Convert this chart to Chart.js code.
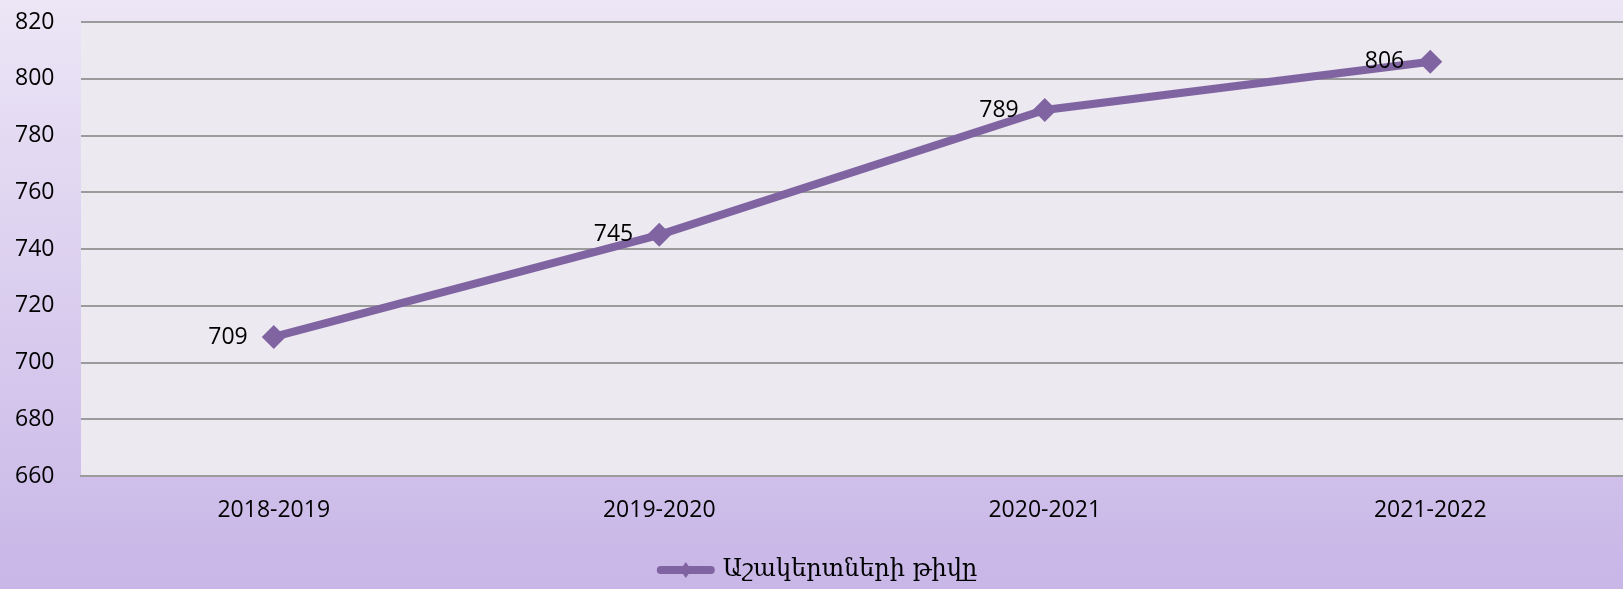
<!DOCTYPE html>
<html>
<head>
<meta charset="utf-8">
<script src="https://cdn.jsdelivr.net/npm/chart.js@4.4.1/dist/chart.umd.min.js"></script>
<style>
    html, body { margin: 0; padding: 0; }
    #wrap { width: 1623px; height: 589px; }
</style>
</head>
<body>
<div id="wrap"><canvas id="myChart"></canvas></div>
<script>
const categories = ['2018-2019', '2019-2020', '2020-2021', '2021-2022'];
const studentCounts = [709, 745, 789, 806];
const seriesLabel = 'Աշակերտների թիվը';
const yMin = 660;
const yMax = 820;
const yStep = 20;

const lineColor = '#8064A2';
const tickFont = { family: "'Open Sans'", size: 23 };

// background: lavender gradient + light plot area
const backgroundPlugin = {
    id: 'background',
    beforeDraw(chart) {
        const { ctx, chartArea, width, height } = chart;
        ctx.save();
        const grad = ctx.createLinearGradient(0, 0, 0, height);
        grad.addColorStop(0, '#ECE6F6');
        grad.addColorStop(1, '#C8B6E7');
        ctx.fillStyle = grad;
        ctx.fillRect(0, 0, width, height);
        ctx.fillStyle = '#ECEAF0';
        ctx.fillRect(chartArea.left, chartArea.top, chartArea.right - chartArea.left, chartArea.bottom - chartArea.top);
        ctx.restore();
    }
};

// value labels to the left of each point
const valueLabels = {
    id: 'valueLabels',
    afterDatasetsDraw(chart) {
        const { ctx } = chart;
        const meta = chart.getDatasetMeta(0);
        ctx.save();
        ctx.font = "23px 'Open Sans'";
        ctx.fillStyle = '#000';
        ctx.textAlign = 'right';
        ctx.textBaseline = 'middle';
        meta.data.forEach((pt, i) => {
            ctx.fillText(String(chart.data.datasets[0].data[i]), pt.x - 26, pt.y);
        });
        ctx.restore();
    }
};

// small diamond on the legend line sample
const legendDiamond = {
    id: 'legendDiamond',
    afterDraw(chart) {
        const legend = chart.legend;
        if (!legend || !legend.legendHitBoxes.length) return;
        const box = legend.legendHitBoxes[0];
        const bw = chart.options.plugins.legend.labels.pointStyleWidth;
        const cx = box.left + bw / 2;
        const cy = box.top + box.height / 2;
        const r = 8;
        const { ctx } = chart;
        ctx.save();
        ctx.fillStyle = lineColor;
        ctx.beginPath();
        ctx.moveTo(cx, cy - r);
        ctx.lineTo(cx + r * 0.7, cy);
        ctx.lineTo(cx, cy + r);
        ctx.lineTo(cx - r * 0.7, cy);
        ctx.closePath();
        ctx.fill();
        ctx.restore();
    }
};

const ctx = document.getElementById('myChart').getContext('2d');

let myChart = new Chart(ctx, {
    type: 'line',
    data: {
        labels: categories,
        datasets: [{
            label: seriesLabel,
            data: studentCounts,
            borderColor: lineColor,
            backgroundColor: lineColor,
            borderWidth: 8,
            borderCapStyle: 'round',
            tension: 0,
            pointStyle: 'rectRot',
            pointRadius: 12,
            pointBackgroundColor: lineColor,
            pointBorderWidth: 0
        }]
    },
    options: {
        responsive: true,
        maintainAspectRatio: false,
        animation: false,
        layout: {
            autoPadding: false,
            padding: { top: 22, right: 0, left: 15, bottom: -3 }
        },
        scales: {
            x: {
                offset: true,
                grid: { display: false },
                border: { display: true, color: '#9B9B9B', width: 2 },
                ticks: { color: '#000', font: tickFont, padding: 13 },
                afterFit(scale) { scale.height = 80; }
            },
            y: {
                min: yMin,
                max: yMax,
                grid: { color: '#9B9B9B', lineWidth: 2, drawTicks: false },
                border: { display: false },
                ticks: { stepSize: yStep, color: '#000', font: tickFont, padding: 0, crossAlign: 'far' },
                afterFit(scale) { scale.width = 66; }
            }
        },
        plugins: {
            legend: {
                position: 'bottom',
                labels: {
                    usePointStyle: true,
                    pointStyle: 'line',
                    pointStyleWidth: 50,
                    color: '#000',
                    font: { family: "'DejaVu Serif'", size: 24 },
                    padding: 2,
                    generateLabels(chart) {
                        const items = Chart.defaults.plugins.legend.labels.generateLabels(chart);
                        items.forEach(item => {
                            item.lineWidth = 8;
                            item.strokeStyle = lineColor;
                            item.lineCap = 'round';
                            item.pointStyle = 'line';
                        });
                        return items;
                    }
                }
            },
            tooltip: { enabled: false }
        }
    },
    plugins: [backgroundPlugin, valueLabels, legendDiamond]
});
</script>
</body>
</html>
